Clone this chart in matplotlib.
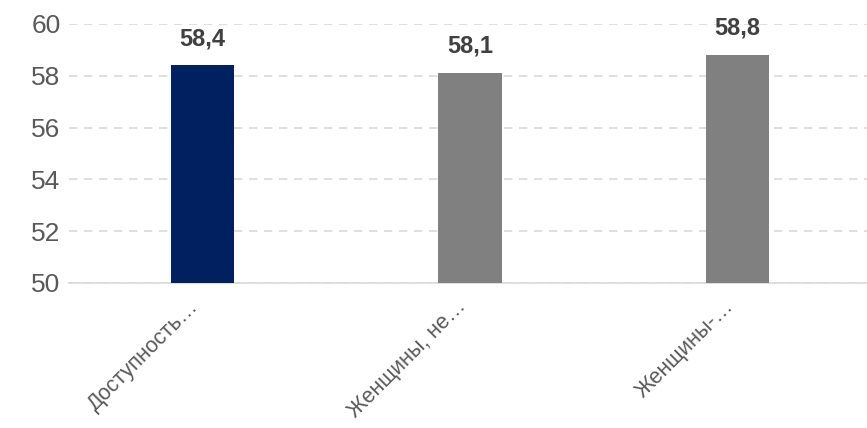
import matplotlib.pyplot as plt
from matplotlib import font_manager

categories = ["Доступность…", "Женщины, не…", "Женщины-…"]
values = [58.4, 58.1, 58.8]
value_labels = ["58,4", "58,1", "58,8"]
bar_colors = ["#002060", "#808080", "#808080"]
y_ticks = [50, 52, 54, 56, 58, 60]

names = {f.name for f in font_manager.fontManager.ttflist}
family = ["Liberation Sans Narrow", "DejaVu Sans"] if "Liberation Sans Narrow" in names else ["Liberation Sans", "DejaVu Sans"]
plt.rcParams['font.family'] = family

fig = plt.figure(figsize=(8.67, 4.28), dpi=100)
ax = fig.add_axes([0.0793, 0.3388, 0.9256, 0.6052])

x = range(len(categories))
ax.bar(x, values, width=0.236, color=bar_colors, zorder=3)

# value labels above the bars
for i, v in enumerate(values):
    ax.annotate(value_labels[i], (i, v), xytext=(0, 11), textcoords='offset points',
                ha='center', va='bottom', fontsize=17, fontweight='bold',
                color='#404040', annotation_clip=False)

ax.set_xlim(-0.5, 2.5)
ax.set_ylim(50, 60)
ax.set_yticks(y_ticks)
ax.set_yticklabels([str(t) for t in y_ticks], fontsize=19, color='#595959')
ax.set_xticks(list(x))
ax.set_xticklabels(categories, rotation=45, ha='right', va='bottom',
                   rotation_mode='anchor', fontsize=15.5, color='#595959')

ax.grid(axis='y', color='#d9d9d9', linestyle=(0, (5, 4)), linewidth=1.2, zorder=0)
for s in ['top', 'right', 'left']:
    ax.spines[s].set_visible(False)
ax.spines['bottom'].set_color('#d9d9d9')
ax.spines['bottom'].set_linewidth(1.2)
ax.tick_params(axis='both', length=0)
ax.tick_params(axis='y', pad=6)
ax.tick_params(axis='x', pad=20)

fig.savefig('out.png', dpi=100)
